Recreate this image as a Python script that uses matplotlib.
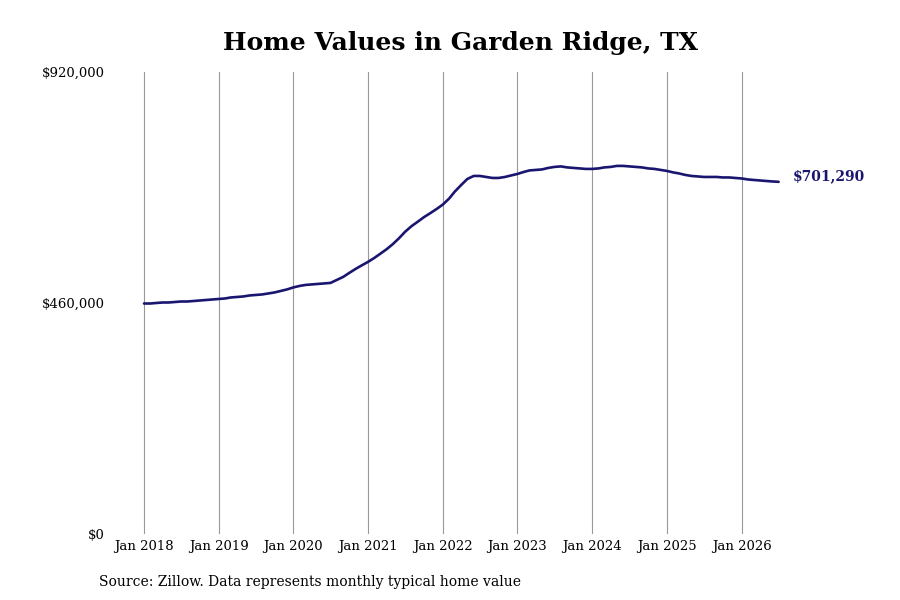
import numpy as np
import pandas as pd
import matplotlib.pyplot as plt
import matplotlib.dates as mdates
import matplotlib.ticker as mticker

plt.rcParams['font.family'] = ['DejaVu Serif']

# monthly typical home values (thousands of $)
v2018 = [459, 459, 460, 461, 461, 462, 463, 463, 464, 465, 466, 467]
v2019 = [468, 469, 471, 472, 473, 475, 476, 477, 479, 481, 484, 487]
v2020 = [491, 494, 496, 497, 498, 499, 500, 506, 512, 520, 528, 535]
v2021 = [542, 550, 558, 567, 577, 589, 602, 613, 622, 631, 639, 647]
v2022 = [656, 668, 682, 695, 707, 713, 713, 711, 709, 709, 711, 714]
v2023 = [717, 721, 724, 725, 726, 729, 731, 732, 730, 729, 728, 727]
v2024 = [727, 728, 730, 731, 733, 733, 732, 731, 730, 728, 727, 725]
v2025 = [723, 720, 718, 715, 713, 712, 711, 711, 711, 710, 710, 709]
v2026 = [708, 706, 705, 704, 703, 702, 701.29]

values = [v * 1000 for v in v2018 + v2019 + v2020 + v2021 + v2022 + v2023 + v2024 + v2025 + v2026]
dates = pd.date_range('2018-01-01', periods=len(values), freq='MS')

year_ticks = pd.date_range('2018-01-01', '2026-01-01', freq='YS')
tick_labels = ['Jan ' + str(d.year) for d in year_ticks]
y_ticks = [0, 460000, 920000]

fig = plt.figure(figsize=(9, 6), dpi=100)
ax = fig.add_axes([110 / 900, 66 / 600, 770 / 900, 462 / 600])

line_color = '#1a1670'
ax.plot(dates, values, color=line_color, linewidth=1.9, solid_capstyle='round')

# x range: Jan 2018 at px 144, ~74.7 px per year
x0 = mdates.date2num(pd.Timestamp('2018-01-01'))
per_year = 365.25
ax.set_xlim(x0 - 34 / 74.7 * per_year, x0 + 736 / 74.7 * per_year)
ax.set_ylim(0, 920000)

ax.set_xticks(year_ticks)
ax.set_xticklabels(tick_labels)
ax.set_yticks(y_ticks)
ax.yaxis.set_major_formatter(mticker.FuncFormatter(lambda v, p: '${:,.0f}'.format(v)))
ax.tick_params(axis='both', length=0, labelsize=9.5)
ax.tick_params(axis='x', pad=4)
ax.tick_params(axis='y', pad=4)
ax.grid(axis='x', color='#999999', linewidth=0.8)
ax.set_axisbelow(True)
for s in ax.spines.values():
    s.set_visible(False)

ax.annotate('${:,.0f}'.format(values[-1]), (dates[-1], values[-1]),
            xytext=(10, 4), textcoords='offset points',
            ha='left', va='center', color=line_color,
            fontsize=10, fontweight='bold')

fig.text(461 / 900, 1 - 43 / 600, 'Home Values in Garden Ridge, TX',
         ha='center', va='center', fontsize=18, fontweight='bold')
fig.text(99 / 900, 1 - 582 / 600, 'Source: Zillow. Data represents monthly typical home value',
         ha='left', va='center', fontsize=10)

fig.savefig('out.png', dpi=100)
